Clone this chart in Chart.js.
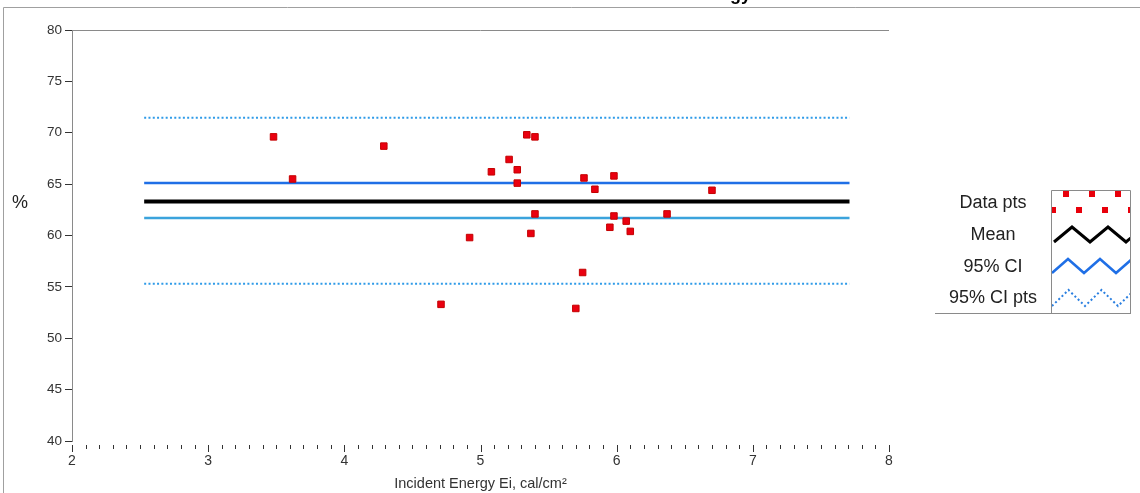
<!DOCTYPE html>
<html lang="en">
<head>
<meta charset="UTF-8" />
<title>Heat Attenuation Factor vs Incident Energy</title>
<style>
  body {
    margin: 0;
    background: #fff;
    font-family: "Liberation Sans", Arial, sans-serif;
  }
  #wrap {
    position: relative;
    width: 1140px;
    height: 493px;
    overflow: hidden;
  }
</style>
</head>
<body>
<div id="wrap">
  <canvas id="hafChart" width="1140" height="493"></canvas>
</div>

<script src="https://cdn.jsdelivr.net/npm/chart.js"></script>
<script>
  // Data
  const energy = [3.48, 3.62, 4.29, 4.71, 4.92, 5.08, 5.21, 5.27, 5.27, 5.34, 5.40, 5.40,
                  5.37, 5.70, 5.75, 5.76, 5.84, 5.98, 5.98, 5.95, 6.07, 6.10, 6.37, 6.70];
  const haf = [69.6, 65.5, 68.7, 53.3, 59.8, 66.2, 67.4, 66.4, 65.1, 69.8, 69.6, 62.1,
               60.2, 52.9, 56.4, 65.6, 64.5, 65.8, 61.9, 60.8, 61.4, 60.4, 62.1, 64.4];

  const lineSpan = [2.53, 7.71];
  const meanLevel = 63.3;
  const ciUpper = 65.1;
  const ciLower = 61.7;
  const ciPtsUpper = 71.45;
  const ciPtsLower = 55.3;

  const xTickValues = [2, 3, 4, 5, 6, 7, 8];
  const yTickValues = [40, 45, 50, 55, 60, 65, 70, 75, 80];

  const titleText = 'Heat Attenuation Factor vs Incident Energy';
  const xTitle = 'Incident Energy Ei, cal/cm²';
  const yTitle = '%';
  const legendLabels = ['Data pts', 'Mean', '95% CI', '95% CI pts'];

  const FONT = '"Liberation Sans", Arial, sans-serif';

  function level(v) {
    return lineSpan.map(x => ({ x: x, y: v }));
  }

  function zigzag(c, x0, yLow, yHigh, half) {
    c.beginPath();
    c.moveTo(x0, yLow);
    let up = true;
    for (let x = x0 + half; x < x0 + 6 * half; x += half) {
      c.lineTo(x, up ? yHigh : yLow);
      up = !up;
    }
    c.stroke();
  }

  // frame, minor ticks, title, "%" and the legend panel
  const decorations = {
    id: 'decorations',
    beforeDraw(chart) {
      const c = chart.ctx;
      c.save();
      c.fillStyle = '#fff';
      c.fillRect(0, 0, chart.width, chart.height);
      c.restore();
    },
    afterDraw(chart) {
      const c = chart.ctx;
      const { left, right, top, bottom } = chart.chartArea;
      const xs = chart.scales.x;
      c.save();

      // outer frame
      c.strokeStyle = '#a0a0a0';
      c.lineWidth = 1;
      c.beginPath();
      c.moveTo(3.5, chart.height);
      c.lineTo(3.5, 7.5);
      c.lineTo(chart.width, 7.5);
      c.stroke();

      // plot top border
      c.strokeStyle = '#8a8a8a';
      c.beginPath();
      c.moveTo(left, top + 0.5);
      c.lineTo(right, top + 0.5);
      c.stroke();

      // x ticks, major and minor
      c.strokeStyle = '#333';
      const steps = Math.round((xs.max - xs.min) * 10);
      for (let i = 0; i <= steps; i++) {
        const px = Math.round(xs.getPixelForValue(xs.min + i / 10)) + 0.5;
        const major = i % 10 === 0;
        c.beginPath();
        c.moveTo(px, bottom + 4);
        c.lineTo(px, bottom + (major ? 11 : 8));
        c.stroke();
      }

      // title (cut off at top like the reference)
      c.fillStyle = '#000';
      c.font = 'bold 18px ' + FONT;
      c.textAlign = 'right';
      c.textBaseline = 'alphabetic';
      c.fillText(titleText, 751, 0);

      // y axis title
      c.fillStyle = '#222';
      c.font = '18px ' + FONT;
      c.textAlign = 'center';
      c.textBaseline = 'middle';
      c.fillText(yTitle, 20, 203);

      // legend labels
      const rows = [203, 235, 267, 298];
      legendLabels.forEach((t, i) => c.fillText(t, 993, rows[i]));

      // legend box
      c.strokeStyle = '#8a8a8a';
      c.beginPath();
      c.moveTo(1051.5, 313);
      c.lineTo(1051.5, 190.5);
      c.lineTo(1130.5, 190.5);
      c.lineTo(1130.5, 313);
      c.moveTo(935, 313.5);
      c.lineTo(1131, 313.5);
      c.stroke();

      c.save();
      c.beginPath();
      c.rect(1052, 191, 78, 122);
      c.clip();

      // data pts swatch
      c.fillStyle = '#e8000b';
      [[1066, 194], [1092, 194], [1118, 194], [1053, 210], [1079, 210], [1105, 210], [1131, 210]]
        .forEach(p => c.fillRect(p[0] - 3, p[1] - 3, 6, 6));

      c.lineJoin = 'miter';
      c.strokeStyle = '#000';
      c.lineWidth = 3;
      zigzag(c, 1054, 242, 227, 18);

      c.strokeStyle = '#1f6fe6';
      c.lineWidth = 2.5;
      zigzag(c, 1052, 273, 259, 16);

      c.strokeStyle = '#2a7fe0';
      c.lineWidth = 2;
      c.setLineDash([2, 2.5]);
      zigzag(c, 1052, 306, 290, 16.5);
      c.restore();

      c.restore();
    }
  };

  const ctx = document.getElementById('hafChart').getContext('2d');

  new Chart(ctx, {
    type: 'scatter',
    data: {
      datasets: [
        {
          label: 'Data pts',
          data: energy.map((e, i) => ({ x: e, y: haf[i] })),
          pointStyle: 'rect',
          pointRadius: 4.6,
          backgroundColor: '#ea0010',
          borderColor: '#c40000',
          borderWidth: 1
        },
        {
          label: 'Mean',
          data: level(meanLevel),
          showLine: true,
          pointRadius: 0,
          borderColor: '#000',
          borderWidth: 4
        },
        {
          label: '95% CI upper',
          data: level(ciUpper),
          showLine: true,
          pointRadius: 0,
          borderColor: '#1f6fe6',
          borderWidth: 2.5
        },
        {
          label: '95% CI lower',
          data: level(ciLower),
          showLine: true,
          pointRadius: 0,
          borderColor: '#3ba3dc',
          borderWidth: 2.5
        },
        {
          label: '95% CI pts upper',
          data: level(ciPtsUpper),
          showLine: true,
          pointRadius: 0,
          borderColor: '#2f9be8',
          borderWidth: 2,
          borderDash: [2, 2.3]
        },
        {
          label: '95% CI pts lower',
          data: level(ciPtsLower),
          showLine: true,
          pointRadius: 0,
          borderColor: '#2f9be8',
          borderWidth: 2,
          borderDash: [2, 2.3]
        }
      ]
    },
    options: {
      responsive: false,
      animation: false,
      devicePixelRatio: 1,
      layout: { padding: { top: 30, right: 251, left: 0, bottom: 0 } },
      plugins: {
        legend: { display: false },
        tooltip: { enabled: false }
      },
      scales: {
        x: {
          type: 'linear',
          min: 2,
          max: 8,
          afterFit: s => { s.height = 52; },
          afterBuildTicks: s => { s.ticks = xTickValues.map(v => ({ value: v })); },
          border: { display: false },
          grid: { drawOnChartArea: false, drawTicks: false },
          ticks: {
            color: '#333',
            padding: 12,
            maxRotation: 0,
            font: { family: FONT, size: 14 }
          },
          title: {
            display: true,
            text: xTitle,
            color: '#333',
            padding: { top: 0, bottom: 0 },
            font: { family: FONT, size: 14.5 }
          }
        },
        y: {
          type: 'linear',
          min: 40,
          max: 80,
          afterFit: s => { s.width = 72; },
          afterBuildTicks: s => { s.ticks = yTickValues.map(v => ({ value: v })); },
          border: { display: true, color: '#8a8a8a', width: 1 },
          grid: { drawOnChartArea: false, drawTicks: true, tickLength: 7, tickColor: '#333' },
          ticks: {
            color: '#333',
            padding: 3,
            font: { family: FONT, size: 13.5 }
          }
        }
      }
    },
    plugins: [decorations]
  });
</script>
</body>
</html>
